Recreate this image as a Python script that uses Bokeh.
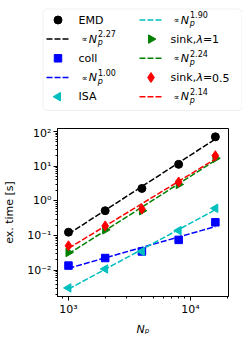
from bokeh.plotting import figure
from bokeh.layouts import column
from bokeh.models import Range1d, FixedTicker, CustomJSTickFormatter, BoxAnnotation
from bokeh.core.properties import value
from bokeh.embed import file_html
from bokeh.resources import INLINE
import math

# ---------------- data ----------------
np_vals = [1000, 2000, 4000, 8000, 16000]
emd = [0.125, 0.52, 2.28, 11.3, 70]
coll = [0.0136, 0.0225, 0.0348, 0.075, 0.241]
isa = [0.0031, 0.0109, 0.0348, 0.139, 0.61]
sink1 = [0.0326, 0.146, 0.52, 2.97, 16.8]
sink05 = [0.0507, 0.19, 0.58, 3.5, 20.0]

fit_np = [1000, 16000]
emd_fit = [0.111, 60.4]
coll_fit = [0.01135, 0.1815]
isa_fit = [0.00286, 0.555]
sink1_fit = [0.0295, 14.7]
sink05_fit = [0.0427, 16.1]

exp_emd, exp_coll, exp_isa, exp_sink1, exp_sink05 = "2.27", "1.00", "1.90", "2.24", "2.14"
x_major = [1e3, 1e4]
y_major = [1e-2, 1e-1, 1e0, 1e1, 1e2]

BLACK, BLUE, CYAN, GREEN, RED = "#000000", "#0000ff", "#00bfbf", "#008000", "#ff0000"
FONT = value("DejaVu Sans")
DASH = "6 2"

# ---------------- main plot ----------------
p = figure(width=242, height=212, x_axis_type="log", y_axis_type="log",
           x_range=Range1d(813, 20500), y_range=Range1d(10 ** -2.757, 10 ** 2.086),
           output_backend="svg", toolbar_location=None, frame_align=False,
           min_border_left=57, min_border_right=14, min_border_top=2, min_border_bottom=41)
p.grid.visible = False
p.outline_line_color = "black"
p.outline_line_width = 1
p.background_fill_color = "white"

x_minor = [m * 10 ** k for k in (2, 3, 4) for m in range(2, 10)]
y_minor = [m * 10 ** k for k in (-3, -2, -1, 0, 1, 2) for m in range(2, 10)]
p.xaxis.ticker = FixedTicker(ticks=x_major, minor_ticks=x_minor)
p.yaxis.ticker = FixedTicker(ticks=y_major, minor_ticks=y_minor)
fmt_code = """
const sup = {'-':'\u207b','0':'\u2070','1':'\u00b9','2':'\u00b2','3':'\u00b3','4':'\u2074','5':'\u2075','6':'\u2076','7':'\u2077','8':'\u2078','9':'\u2079'};
const e = Math.round(Math.log10(tick));
return '10' + String(e).split('').map(c => sup[c]).join('');
"""
for ax in (p.xaxis, p.yaxis):
    ax.formatter = CustomJSTickFormatter(code=fmt_code)
    ax.major_label_text_font = "DejaVu Sans"
    ax.major_label_text_font_size = "11px"
    ax.major_label_text_color = "black"
    ax.axis_line_color = "black"
    ax.major_tick_line_color = "black"
    ax.minor_tick_line_color = "black"
    ax.major_tick_in = 0
    ax.major_tick_out = 4
    ax.minor_tick_in = 0
    ax.minor_tick_out = 2
    ax.major_label_standoff = 2
    ax.axis_label_text_font = "DejaVu Sans"
    ax.axis_label_text_font_size = "11px"
    ax.axis_label_text_color = "black"

p.yaxis.axis_label = "ex. time [s]"
p.yaxis.axis_label_text_font_style = "normal"
p.yaxis.axis_label_standoff = 8
p.xaxis.axis_label = "N\u209a"
p.xaxis.axis_label_text_font_style = "italic"
p.xaxis.axis_label_standoff = 4

p.scatter(np_vals, emd, marker="circle", size=8, color=BLACK)
p.line(fit_np, emd_fit, line_color=BLACK, line_width=1.5, line_dash=DASH)
p.scatter(np_vals, coll, marker="square", size=7.5, color=BLUE)
p.line(fit_np, coll_fit, line_color=BLUE, line_width=1.5, line_dash=DASH)
p.scatter(np_vals, isa, marker="triangle", size=8.5, angle=math.pi / 2, color=CYAN)
p.line(fit_np, isa_fit, line_color=CYAN, line_width=1.5, line_dash=DASH)
p.scatter(np_vals, sink1, marker="triangle", size=8.5, angle=-math.pi / 2, color=GREEN)
p.line(fit_np, sink1_fit, line_color=GREEN, line_width=1.5, line_dash=DASH)
p.scatter(np_vals, sink05, marker="diamond", size=10, color=RED)
p.line(fit_np, sink05_fit, line_color=RED, line_width=1.5, line_dash=DASH)

# ---------------- legend (separate panel) ----------------
leg = figure(width=242, height=126, x_range=Range1d(-8, 234), y_range=Range1d(118, -8),
             output_backend="svg", toolbar_location=None, frame_align=False,
             min_border=0, min_border_left=0, min_border_right=0,
             min_border_top=0, min_border_bottom=0,
             x_axis_location=None, y_axis_location=None)
leg.grid.visible = False
leg.outline_line_color = None
leg.add_layout(BoxAnnotation(left=34.5, right=233.5, top=0.5, bottom=102, border_radius=4,
                             fill_color="white", fill_alpha=1.0, level="underlay",
                             line_color="#cccccc", line_width=1))

rows = [11.5, 30.6, 49.8, 69.0, 88.2]
c1_line, c1_mark, c1_txt, c1_prop = (38, 61), 49.5, 70, 73
c2_line, c2_mark, c2_txt, c2_prop = (131, 154), 142.5, 162, 165


def txt(x, y, s, size="11px", style="normal"):
    leg.text(x=[x], y=[y], text=[s], text_font=FONT, text_font_size=size,
             text_font_style=style, text_baseline="middle", text_align="left",
             text_color="black")


def prop_entry(x0, y, expo):
    txt(x0, y + 0.5, "\u221d", size="8px")
    txt(x0 + 7.3, y, "N", style="italic")
    txt(x0 + 16.3, y + 3.8, "p", size="8px", style="italic")
    txt(x0 + 16.5, y - 5.2, expo, size="8px")


def leg_line(xs, y, color):
    leg.line(list(xs), [y, y], line_color=color, line_width=1.5, line_dash=DASH)


def sink_entry(x0, y, lam):
    txt(x0, y, "sink,")
    txt(x0 + 26, y, "\u03bb", style="italic")
    txt(x0 + 32.5, y, "=")
    txt(x0 + 41.5, y, lam)


leg.scatter([c1_mark], [rows[0]], marker="circle", size=8, color=BLACK)
txt(c1_txt, rows[0], "EMD")
leg_line(c1_line, rows[1], BLACK)
prop_entry(c1_prop, rows[1], exp_emd)
leg.scatter([c1_mark], [rows[2]], marker="square", size=7.5, color=BLUE)
txt(c1_txt, rows[2], "coll")
leg_line(c1_line, rows[3], BLUE)
prop_entry(c1_prop, rows[3], exp_coll)
leg.scatter([c1_mark], [rows[4]], marker="triangle", size=8.5, angle=math.pi / 2, color=CYAN)
txt(c1_txt, rows[4], "ISA")

leg_line(c2_line, rows[0], CYAN)
prop_entry(c2_prop, rows[0], exp_isa)
leg.scatter([c2_mark], [rows[1]], marker="triangle", size=8.5, angle=-math.pi / 2, color=GREEN)
sink_entry(c2_txt, rows[1], "1")
leg_line(c2_line, rows[2], GREEN)
prop_entry(c2_prop, rows[2], exp_sink1)
leg.scatter([c2_mark], [rows[3]], marker="diamond", size=10, color=RED)
sink_entry(c2_txt, rows[3], "0.5")
leg_line(c2_line, rows[4], RED)
prop_entry(c2_prop, rows[4], exp_sink05)

layout = column(leg, p, spacing=0, sizing_mode="fixed", width=242, height=338)
open("out.html", "w").write(file_html(layout, INLINE))
